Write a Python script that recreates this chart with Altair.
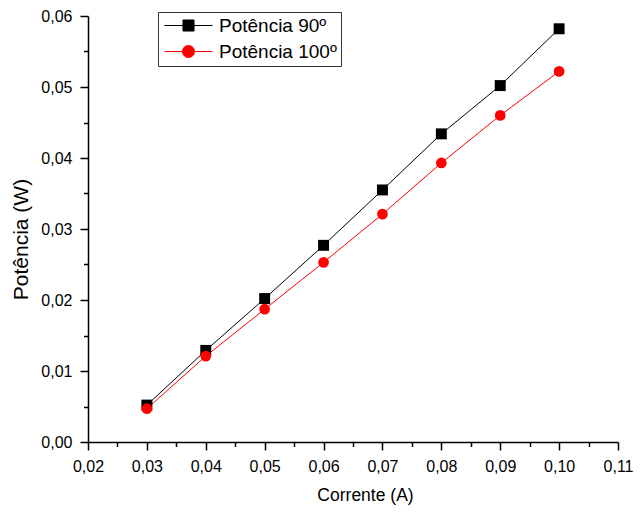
import altair as alt
import pandas as pd

# ---- data ----
corrente = [0.03, 0.04, 0.05, 0.06, 0.07, 0.08, 0.09, 0.10]
potencia_90 = [0.0052, 0.0129, 0.0202, 0.0277, 0.0355, 0.0434, 0.0502, 0.0582]
potencia_100 = [0.0047, 0.0121, 0.0187, 0.0253, 0.0321, 0.0393, 0.0460, 0.0522]
series = ["Potência 90º", "Potência 100º"]
colors = ["#000000", "#ff0000"]
x_ticks = [0.02, 0.03, 0.04, 0.05, 0.06, 0.07, 0.08, 0.09, 0.10, 0.11]
x_minor = [0.025, 0.035, 0.045, 0.055, 0.065, 0.075, 0.085, 0.095, 0.105]
y_ticks = [0.00, 0.01, 0.02, 0.03, 0.04, 0.05, 0.06]
y_minor = [0.005, 0.015, 0.025, 0.035, 0.045, 0.055]

df = pd.DataFrame({
    "corrente": corrente + corrente,
    "potencia": potencia_90 + potencia_100,
    "serie": [series[0]] * len(corrente) + [series[1]] * len(corrente),
})

FONT = "Liberation Sans"
label_expr = "replace(format(datum.value, '.2f'), '.', ',')"

x_scale = alt.Scale(domain=[0.02, 0.11], nice=False, zero=False)
y_scale = alt.Scale(domain=[0.0, 0.06], nice=False, zero=False)
# colour scale for the drawn marks (domain listed in reverse so that its
# disabled legend is not merged with the visible legend below)
mark_colors = alt.Scale(domain=series[::-1], range=colors[::-1])
legend_colors = alt.Scale(domain=series, range=colors)

common_axis = dict(grid=False, domainColor="black", domainWidth=1.5,
                   tickColor="black", tickWidth=1.5, labelFont=FONT,
                   labelFontSize=16, labelColor="black", labelFlush=False,
                   labelOverlap=False, titleFont=FONT, titleColor="black",
                   titleFontWeight="normal")

x_major = alt.Axis(values=x_ticks, labelExpr=label_expr, tickSize=8,
                   labelPadding=8, title="Corrente (A)", titleFontSize=17.5,
                   titleX=277, titleY=58, titleBaseline="alphabetic",
                   titleAlign="center", orient="bottom", **common_axis)
y_major = alt.Axis(values=y_ticks, labelExpr=label_expr, tickSize=8,
                   labelPadding=8, title="Potência (W)", titleFontSize=21,
                   titleX=-61, titleY=223, titleBaseline="alphabetic",
                   titleAlign="center", titleAngle=270, orient="left",
                   **common_axis)
x_minor_axis = alt.Axis(values=x_minor, tickSize=4.5, labels=False,
                        domain=False, grid=False, tickColor="black",
                        tickWidth=1.5, orient="bottom", title=None)
y_minor_axis = alt.Axis(values=y_minor, tickSize=4.5, labels=False,
                        domain=False, grid=False, tickColor="black",
                        tickWidth=1.5, orient="left", title=None)

base = alt.Chart(df)

lines = base.mark_line(strokeWidth=1).encode(
    x=alt.X("corrente:Q", scale=x_scale, axis=x_major),
    y=alt.Y("potencia:Q", scale=y_scale, axis=y_major),
    color=alt.Color("serie:N", scale=mark_colors, legend=None),
)

minor = base.mark_point(opacity=0).encode(
    x=alt.X("corrente:Q", scale=x_scale, axis=x_minor_axis),
    y=alt.Y("potencia:Q", scale=y_scale, axis=y_minor_axis),
)

squares = base.transform_filter(alt.datum.serie == series[0]).mark_square(
    size=120, opacity=1).encode(
    x=alt.X("corrente:Q", scale=x_scale, axis=None),
    y=alt.Y("potencia:Q", scale=y_scale, axis=None),
    color=alt.Color("serie:N", scale=mark_colors, legend=None),
)

circles = base.transform_filter(alt.datum.serie == series[1]).mark_circle(
    size=115, opacity=1).encode(
    x=alt.X("corrente:Q", scale=x_scale, axis=None),
    y=alt.Y("potencia:Q", scale=y_scale, axis=None),
    color=alt.Color("serie:N", scale=mark_colors, legend=None),
)

# legend symbols: a line with the marker in its middle (units of 7 px)
path_square = "M-3.43,0H3.43M-0.79,-0.79H0.79V0.79H-0.79Z"
path_circle = ("M-3.43,0H3.43M0.86,0A0.86,0.86,0,1,1,-0.86,0"
               "A0.86,0.86,0,1,1,0.86,0Z")

legend = alt.Legend(title=None, orient="none", legendX=70, legendY=-4,
                    symbolSize=196, symbolOffset=17, symbolStrokeWidth=1,
                    symbolOpacity=1, labelFont=FONT, labelFontSize=19,
                    labelColor="black", labelOffset=21, rowPadding=6,
                    padding=4, strokeColor="#333333", fillColor="white",
                    labelLimit=400)

legend_layer = base.mark_point(filled=True, opacity=0, strokeWidth=1).encode(
    x=alt.X("corrente:Q", scale=x_scale, axis=None),
    y=alt.Y("potencia:Q", scale=y_scale, axis=None),
    fill=alt.Fill("serie:N", scale=legend_colors, legend=legend),
    stroke=alt.Stroke("serie:N", scale=legend_colors, legend=legend),
    shape=alt.Shape("serie:N",
                    scale=alt.Scale(domain=series,
                                    range=[path_square, path_circle]),
                    legend=legend),
)

chart = alt.layer(minor, lines, squares, circles, legend_layer).resolve_axis(
    x="independent", y="independent"
).properties(
    width=530, height=426,
    padding={"left": 80, "top": 8, "right": 15, "bottom": 64},
    autosize=alt.AutoSizeParams(type="none"),
    background="white",
).configure_view(stroke=None)

chart.save("out.html", embed_options={"renderer": "svg", "actions": False})
